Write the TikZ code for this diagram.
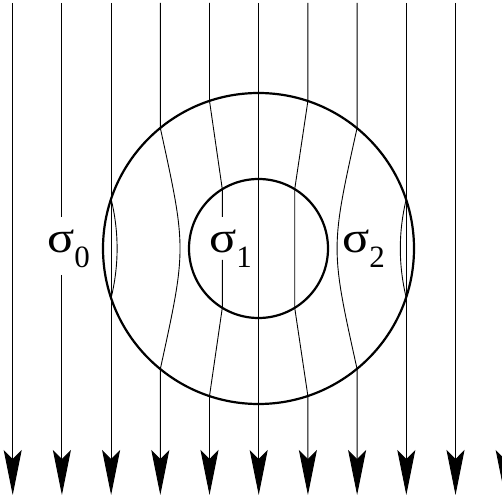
\documentclass[tikz,border=0pt]{standalone}
\usepackage{fontspec}
\setmainfont{Liberation Serif}
\usetikzlibrary{arrows.meta}
\newcommand{\sig}[1]{\scalebox{1.15}[1]{\fontsize{44}{44}\selectfont σ}\raisebox{-15pt}{\fontsize{31}{31}\selectfont #1}}
\begin{document}
\begin{tikzpicture}[x=1pt,y=1pt,
  ray/.style={line width=0.9pt},
  arrowed/.style={ray,-{Stealth[length=45pt,width=18pt,inset=9pt]}},
  ring/.style={line width=2.2pt},
  lbl/.style={anchor=base west,inner sep=0pt,outer sep=0pt}]
\useasboundingbox (0,0) rectangle (502,500);
% centre
\coordinate (c) at (258.5,251.5);
\draw[ring] (c) circle (155.5);
\draw[ring] (c) circle (69.5);
% x positions
\foreach \i/\x in {1/12.7,2/61.9,3/111.1,4/160.3,5/209.5,6/258.7,7/307.9,8/357.1,9/406.3,10/455.5,11/504.7}{
  \coordinate (t\i) at (\x,497);
  \coordinate (b\i) at (\x,5);
}
% straight rays
\foreach \i in {1,3,6,9,10,11}{\draw[arrowed] (t\i) -- (b\i);}
% ray 2 with gap for label
\coordinate (g2a) at (61.9,283);
\coordinate (g2b) at (61.9,225);
\draw[ray] (t2) -- (g2a);
\draw[arrowed] (g2b) -- (b2);
% lens curves on rays 3 and 9
\coordinate (l3a) at (111.1,301);
\coordinate (l3b) at (111.1,202);
\draw[ray] (l3a) .. controls (119.1,268) and (119.1,235) .. (l3b);
\coordinate (l9a) at (406.3,301);
\coordinate (l9b) at (406.3,202);
\draw[ray] (l9a) .. controls (398.3,268) and (398.3,235) .. (l9b);
% rays 4 and 8
\coordinate (r4a) at (160.3,372.1);
\coordinate (r4c) at (186.6,251.5);
\coordinate (r4b) at (160.3,130.9);
\draw[arrowed] (t4) -- (r4a) .. controls (r4c) and (r4c) .. (r4b) -- (b4);
\coordinate (r8a) at (357.1,372.1);
\coordinate (r8c) at (330.4,251.5);
\coordinate (r8b) at (357.1,130.9);
\draw[arrowed] (t8) -- (r8a) .. controls (r8c) and (r8c) .. (r8b) -- (b8);
% ray 5
\coordinate (o5a) at (209.5,399.1);
\coordinate (i5a) at (222.3,310.8);
\coordinate (g5a) at (222.3,283);
\coordinate (g5b) at (222.3,240);
\coordinate (i5b) at (222.3,192.2);
\coordinate (o5b) at (209.5,103.9);
\draw[ray] (t5) -- (o5a) -- (i5a) -- (g5a);
\draw[arrowed] (g5b) -- (i5b) -- (o5b) -- (b5);
% ray 7
\coordinate (o7a) at (307.9,399.1);
\coordinate (i7a) at (294.7,310.8);
\coordinate (i7b) at (294.7,192.2);
\coordinate (o7b) at (307.9,103.9);
\draw[arrowed] (t7) -- (o7a) -- (i7a) -- (i7b) -- (o7b) -- (b7);
% labels
\node[lbl] (s0) at (47,247) {\sig{0}};
\node[lbl] (s1) at (209,247) {\sig{1}};
\node[lbl] (s2) at (342,247) {\sig{2}};
\end{tikzpicture}
\end{document}
